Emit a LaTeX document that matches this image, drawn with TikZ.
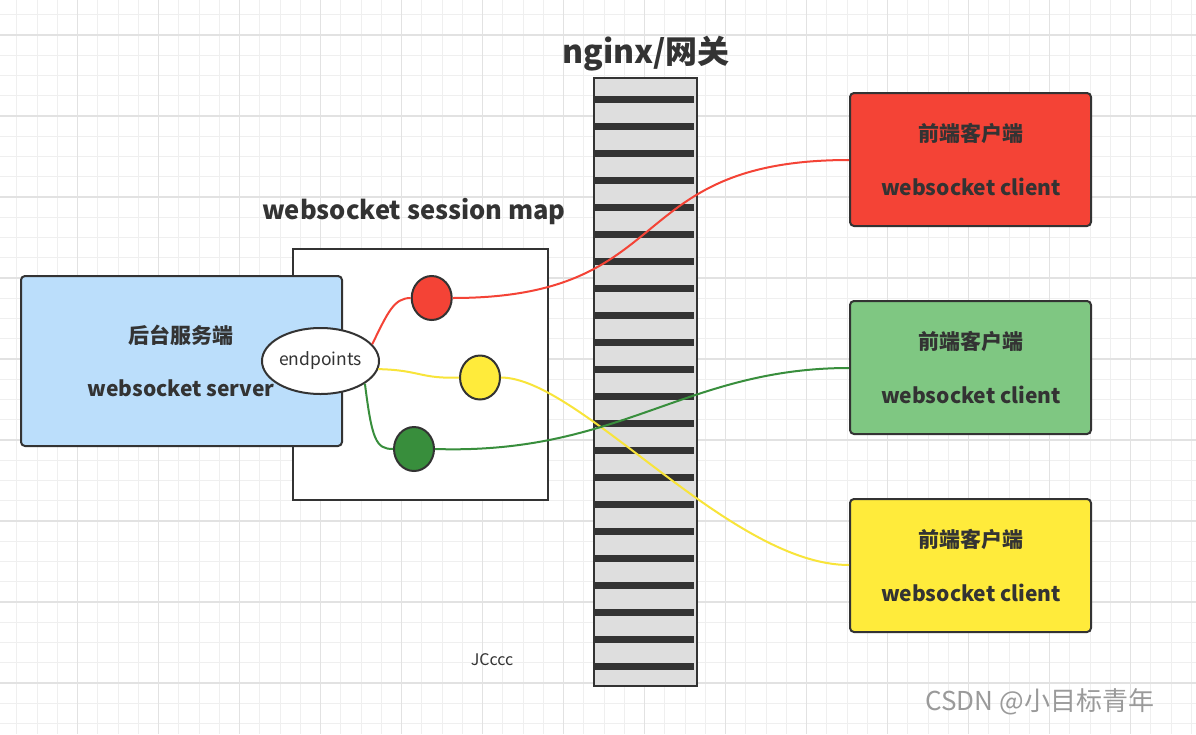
\documentclass[tikz,border=0pt]{standalone}
\usepackage{fontspec}
\setmainfont{Noto Sans CJK SC}
\usetikzlibrary{shapes.geometric}
\definecolor{gridminor}{HTML}{EFEFEF}
\definecolor{gridmajor}{HTML}{E2E2E2}
\definecolor{edge}{HTML}{333333}
\definecolor{txt}{HTML}{333333}
\definecolor{nggray}{HTML}{DEDEDE}
\definecolor{srvblue}{HTML}{BBDEFB}
\definecolor{cred}{HTML}{F44336}
\definecolor{cgreenlt}{HTML}{7FC782}
\definecolor{cyellow}{HTML}{FFEB3B}
\definecolor{cgreen}{HTML}{388E3C}
\definecolor{lred}{HTML}{F44336}
\definecolor{lyellow}{HTML}{F8E43A}
\definecolor{lgreen}{HTML}{388E3C}
\definecolor{wm}{HTML}{9A9A9A}
\tikzset{
  minorline/.style={gridminor, line width=1pt},
  majorline/.style={gridmajor, line width=1.2pt},
  box/.style={draw=edge, line width=2pt, rounded corners=4pt, inner sep=0pt},
  plainbox/.style={draw=edge, line width=2pt, inner sep=0pt},
  dot/.style={draw=edge, line width=2pt, ellipse, minimum width=40pt, minimum height=44pt, inner sep=0pt},
  conn/.style={line width=2pt},
  cjk/.style={font=\fontsize{21}{25}\selectfont\bfseries, text=txt},
  lat/.style={font=\fontsize{21}{25}\selectfont\bfseries, text=txt},
}
\begin{document}
\begin{tikzpicture}[x=1pt,y=-1pt]
\useasboundingbox (0,0) rectangle (1196,734);
\fill[white] (0,0) rectangle (1196,734);
% grid
\foreach \i in {0,...,58} \draw[minorline] ({16.95+20.25*\i},0) -- ({16.95+20.25*\i},734);
\foreach \i in {0,...,35} \draw[minorline] (0,{14.75+20.25*\i}) -- (1196,{14.75+20.25*\i});
\foreach \i in {1,...,14} \draw[majorline] ({-3.3+81*\i},0) -- ({-3.3+81*\i},734);
\foreach \i in {0,...,8} \draw[majorline] (0,{35+81*\i}) -- (1196,{35+81*\i});

% nginx gateway
\node[font=\fontsize{32}{36}\selectfont\bfseries, text=txt] (ngtitle) at (646,54) {nginx/网关};
\node[plainbox, fill=nggray, minimum width=103pt, minimum height=608pt] (nginx) at (645.5,382) {};
\foreach \k in {0,...,21} \fill[edge] (595,{96.2+27*\k}) rectangle (694,{103.2+27*\k});

% session map
\node[font=\fontsize{25.5}{29}\selectfont\bfseries, text=txt] (maptitle) at (414,212) {websocket session map};
\node[plainbox, fill=white, minimum width=255pt, minimum height=251pt] (map) at (420.5,374.5) {};

% server
\node[box, fill=srvblue, minimum width=321pt, minimum height=170pt] (server) at (181.5,361) {};
\node[cjk] (srvcn) at (181,335) {后台服务端};
\node[lat] (srven) at (181,388) {websocket server};

% endpoints
\node[draw=edge, line width=2pt, fill=white, ellipse, minimum width=115pt, minimum height=66pt, inner sep=0pt,
      font=\fontsize{17.5}{20}\selectfont, text=txt] (ep) at (320.5,361) {endpoints};

% session dots
\node[dot, fill=cred] (dr) at (431.7,298) {};
\node[dot, fill=cyellow] (dy) at (480,377.5) {};
\node[dot, fill=cgreen] (dg) at (414,449) {};

% clients
\node[box, fill=cred, minimum width=241pt, minimum height=133pt] (c1) at (970.5,159.5) {};
\node[cjk] (c1cn) at (971,133) {前端客户端};
\node[lat] (c1en) at (971,187) {websocket client};
\node[box, fill=cgreenlt, minimum width=241pt, minimum height=133pt] (c2) at (970.5,367.5) {};
\node[cjk] (c2cn) at (971,341) {前端客户端};
\node[lat] (c2en) at (971,395) {websocket client};
\node[box, fill=cyellow, minimum width=241pt, minimum height=133pt] (c3) at (970.5,565.5) {};
\node[cjk] (c3cn) at (971,539) {前端客户端};
\node[lat] (c3en) at (971,593) {websocket client};

% connectors
\draw[conn, lred] (ep.18) .. controls (388,312) and (394,298) .. (dr.west);
\draw[conn, lred] (dr.east) .. controls (680,298) and (620,160) .. (c1.west |- 0,160);
\draw[conn, lyellow] (ep.-8) .. controls (420,370) and (420,379) .. (dy.west);
\draw[conn, lyellow] (dy.east) .. controls (580,378) and (730,565) .. (c3.west |- 0,565);
\draw[conn, lgreen] (ep.-27) .. controls (372,440) and (376,449) .. (dg.west);
\draw[conn, lgreen] (dg.east) .. controls (620,455) and (685,368) .. (c2.west |- 0,368);

% texts
\node[font=\fontsize{16}{18}\selectfont, text=txt] (jc) at (492,660) {JCccc};
\node[font=\fontsize{26}{30}\selectfont, text=wm, anchor=west] (wmk) at (922,702) {CSDN @小目标青年};
\end{tikzpicture}
\end{document}
